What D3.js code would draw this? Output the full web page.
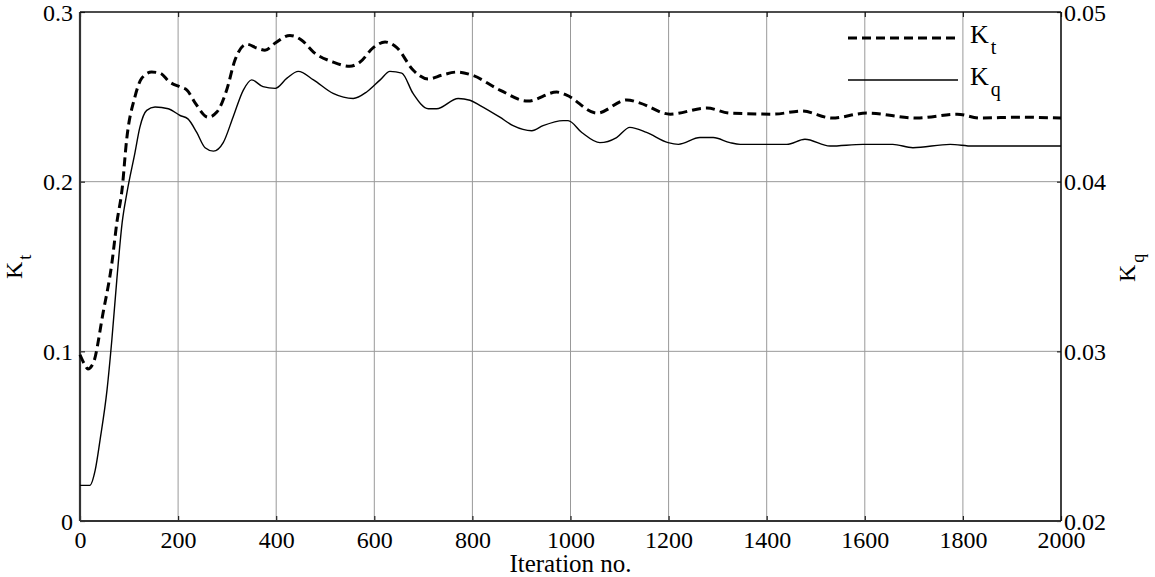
<!DOCTYPE html>
<html>
<head>
<meta charset="utf-8">
<script src="https://cdn.jsdelivr.net/npm/d3@7"></script>
<style>
    body { margin: 0; background: #fff; }
    svg { display: block; font-family: "Liberation Serif", "Times New Roman", serif; }
    .grid line { stroke: #999; stroke-width: 1; }
    .axis text { font-family: "Liberation Serif", "Times New Roman", serif; font-size: 24px; fill: #000; }
    .axis line { stroke: #222; stroke-width: 1.2; }
</style>
</head>
<body>
<svg width="1155" height="577"></svg>
<script>
// iteration positions and values
const ktIter = [0, 10, 16, 27, 47, 65, 75, 86, 95, 112, 126, 146, 163, 183, 204, 218, 235, 261, 279, 299, 316, 340, 361, 377, 398, 428, 452, 476, 516, 550, 571, 598, 622, 646, 679, 710, 738, 768, 799, 856, 913, 972, 992, 1054, 1115, 1142, 1203, 1278, 1325, 1413, 1472, 1533, 1604, 1706, 1788, 1835, 1916, 2000];
const ktVals = [0.098, 0.092, 0.0896, 0.093, 0.1226, 0.152, 0.1756, 0.196, 0.2245, 0.25, 0.261, 0.2646, 0.264, 0.2587, 0.2558, 0.254, 0.2463, 0.238, 0.241, 0.254, 0.2717, 0.281, 0.2787, 0.2775, 0.2817, 0.2862, 0.2834, 0.2764, 0.2705, 0.268, 0.2705, 0.279, 0.2823, 0.279, 0.2658, 0.2605, 0.2628, 0.2646, 0.2628, 0.254, 0.2475, 0.2528, 0.251, 0.2404, 0.2482, 0.2463, 0.2398, 0.2434, 0.2404, 0.2398, 0.2416, 0.2375, 0.2404, 0.2375, 0.2398, 0.2375, 0.238, 0.2375];

const kqIter = [0, 20, 31, 41, 55, 65, 75, 86, 96, 112, 122, 136, 153, 180, 204, 220, 238, 255, 272, 292, 312, 333, 350, 373, 398, 422, 445, 476, 516, 557, 585, 612, 632, 656, 679, 710, 727, 771, 795, 815, 856, 883, 921, 944, 985, 995, 1023, 1060, 1094, 1121, 1155, 1199, 1220, 1264, 1291, 1325, 1346, 1441, 1478, 1529, 1596, 1657, 1698, 1774, 1820, 1882, 2000];
const kqVals = [0.0221, 0.0221, 0.0230, 0.0248, 0.0277, 0.0307, 0.0342, 0.0376, 0.0394, 0.0417, 0.0432, 0.0442, 0.0444, 0.0443, 0.0439, 0.0437, 0.0429, 0.0420, 0.0418, 0.0423, 0.0438, 0.0454, 0.0460, 0.0456, 0.0455, 0.0461, 0.0465, 0.0460, 0.0452, 0.0449, 0.0453, 0.0460, 0.0465, 0.0464, 0.0452, 0.0443, 0.0443, 0.0449, 0.0448, 0.0445, 0.0438, 0.0433, 0.0430, 0.0433, 0.0436, 0.0436, 0.0429, 0.0423, 0.0426, 0.0432, 0.0429, 0.0423, 0.0422, 0.0426, 0.0426, 0.0423, 0.0422, 0.0422, 0.0425, 0.0421, 0.0422, 0.0422, 0.0420, 0.0422, 0.0421, 0.0421, 0.0421];

const xTicks = [0, 200, 400, 600, 800, 1000, 1200, 1400, 1600, 1800, 2000];
const ktTicks = [0, 0.1, 0.2, 0.3];
const kqTicks = [0.02, 0.03, 0.04, 0.05];

const svg = d3.select('svg');
const plotL = 80, plotR = 1061, plotT = 12, plotB = 521;

const x = d3.scaleLinear().domain([0, 2000]).range([plotL, plotR]);
const yKt = d3.scaleLinear().domain([0, 0.3]).range([plotB, plotT]);
const yKq = d3.scaleLinear().domain([0.02, 0.05]).range([plotB, plotT]);

// grid
const grid = svg.append('g').attr('class', 'grid');
grid.selectAll('line.v')
    .data(xTicks.slice(1, -1))
    .join('line')
    .attr('class', 'v')
    .attr('x1', d => x(d)).attr('x2', d => x(d))
    .attr('y1', plotT).attr('y2', plotB);
grid.selectAll('line.h')
    .data(ktTicks.slice(1, -1))
    .join('line')
    .attr('class', 'h')
    .attr('x1', plotL).attr('x2', plotR)
    .attr('y1', d => yKt(d)).attr('y2', d => yKt(d));

// axes
const fmt = d => d === 0 ? '0' : d3.format('.1f')(d);
svg.append('g').attr('class', 'axis')
    .attr('transform', `translate(0,${plotB})`)
    .call(d3.axisBottom(x).tickValues(xTicks).tickSize(-5).tickSizeOuter(0).tickPadding(10).tickFormat(d3.format('d')));
svg.append('g').attr('class', 'axis')
    .attr('transform', `translate(0,${plotT})`)
    .call(d3.axisTop(x).tickValues(xTicks).tickSize(-5).tickSizeOuter(0).tickFormat(''));
const gl = svg.append('g').attr('class', 'axis')
    .attr('transform', `translate(${plotL},0)`)
    .call(d3.axisLeft(yKt).tickValues(ktTicks).tickSize(-5).tickSizeOuter(0).tickPadding(7).tickFormat(fmt));
const gr = svg.append('g').attr('class', 'axis')
    .attr('transform', `translate(${plotR},0)`)
    .call(d3.axisRight(yKq).tickValues(kqTicks).tickSize(-4).tickSizeOuter(0).tickPadding(3).tickFormat(d3.format('.2f')));
svg.selectAll('.axis').attr('font-family', null);
svg.selectAll('.axis .domain').remove();
gl.selectAll('text').attr('dy', '0.34em');
gr.selectAll('text').attr('dy', '0.34em');

// frame
svg.append('line').attr('x1', plotL).attr('x2', plotR).attr('y1', plotB).attr('y2', plotB)
    .attr('stroke', '#333').attr('stroke-width', 2.2);
svg.append('line').attr('x1', plotL).attr('x2', plotL).attr('y1', plotT).attr('y2', plotB)
    .attr('stroke', '#333').attr('stroke-width', 2.2);
svg.append('line').attr('x1', plotL).attr('x2', plotR).attr('y1', plotT).attr('y2', plotT)
    .attr('stroke', '#111').attr('stroke-width', 1.6);
svg.append('line').attr('x1', plotR).attr('x2', plotR).attr('y1', plotT).attr('y2', plotB)
    .attr('stroke', '#111').attr('stroke-width', 1.6);

// lines
const ktData = ktIter.map((d, i) => [d, ktVals[i]]);
const kqData = kqIter.map((d, i) => [d, kqVals[i]]);

svg.append('path')
    .datum(kqData)
    .attr('fill', 'none')
    .attr('stroke', '#000')
    .attr('stroke-width', 1.4)
    .attr('d', d3.line().x(d => x(d[0])).y(d => yKq(d[1])).curve(d3.curveMonotoneX));

svg.append('path')
    .datum(ktData)
    .attr('fill', 'none')
    .attr('stroke', '#000')
    .attr('stroke-width', 3)
    .attr('stroke-dasharray', '9,5')
    .attr('d', d3.line().x(d => x(d[0])).y(d => yKt(d[1])).curve(d3.curveMonotoneX));

// legend
const legend = svg.append('g');
legend.append('line').attr('x1', 848).attr('x2', 958).attr('y1', 38).attr('y2', 38)
    .attr('stroke', '#000').attr('stroke-width', 3).attr('stroke-dasharray', '9,5');
legend.append('line').attr('x1', 848).attr('x2', 958).attr('y1', 80).attr('y2', 80)
    .attr('stroke', '#000').attr('stroke-width', 1.4);

function subLabel(g, xPos, yPos, main, sub, size, subSize, shift) {
    const t = g.append('text').attr('x', xPos).attr('y', yPos)
        .style('font-size', size + 'px');
    t.append('tspan').text(main);
    t.append('tspan').attr('dx', 2).attr('dy', shift).style('font-size', subSize + 'px').text(sub);
    return t;
}
subLabel(legend, 970, 43, 'K', 't', 26, 20, 11);
subLabel(legend, 970, 85, 'K', 'q', 26, 20, 11);

// axis titles
svg.append('text')
    .attr('x', (plotL + plotR) / 2)
    .attr('y', 572)
    .attr('text-anchor', 'middle')
    .style('font-size', '25px')
    .text('Iteration no.');

const ylab = svg.append('g').attr('transform', 'translate(22,279) rotate(-90)');
subLabel(ylab, 0, 0, 'K', 't', 24, 18, 9);
const ylab2 = svg.append('g').attr('transform', 'translate(1135,282) rotate(-90)');
subLabel(ylab2, 0, 0, 'K', 'q', 24, 18, 9);
</script>
</body>
</html>
